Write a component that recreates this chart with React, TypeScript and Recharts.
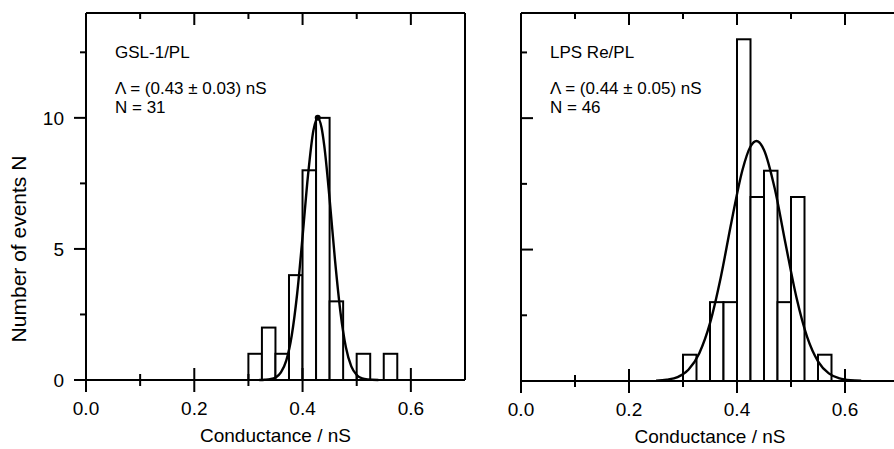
import React from 'react';
import { ComposedChart, Bar, Line, XAxis, YAxis, ReferenceDot } from 'recharts';

// Histogram bins (bin width 0.025 nS, centres)
const binCenters = [0.3125, 0.3375, 0.3625, 0.3875, 0.4125, 0.4375, 0.4625, 0.4875, 0.5125, 0.5375, 0.5625];
const gslCounts = [1, 2, 1, 4, 8, 10, 3, 0, 1, 0, 1];
const lpsCounts = [1, 0, 3, 3, 13, 7, 8, 3, 7, 0, 1];

// Fitted curves
const gslFitX = [0.32, 0.33, 0.34, 0.35, 0.36, 0.37, 0.38, 0.39, 0.40, 0.41, 0.42, 0.428, 0.435, 0.44, 0.45, 0.46, 0.47, 0.48, 0.49, 0.50, 0.51, 0.52, 0.54];
const gslFitY = [0, 0.01, 0.03, 0.09, 0.29, 0.75, 1.70, 3.29, 5.47, 7.80, 9.52, 10, 9.63, 8.95, 6.89, 4.55, 2.58, 1.25, 0.52, 0.19, 0.06, 0.02, 0];
const lpsFitX = [0.25, 0.27, 0.29, 0.31, 0.33, 0.35, 0.37, 0.39, 0.41, 0.425, 0.436, 0.45, 0.47, 0.49, 0.51, 0.53, 0.55, 0.57, 0.59, 0.61, 0.63];
const lpsFitY = [0.01, 0.05, 0.15, 0.43, 1.05, 2.20, 3.95, 6.08, 8.02, 8.92, 9.13, 8.79, 7.31, 5.21, 3.19, 1.67, 0.75, 0.29, 0.10, 0.03, 0.01];

const gslPeakX = 0.428;
const gslPeakY = 10;

// Axis ticks
const xTicks = [0, 0.1, 0.2, 0.3, 0.4, 0.5, 0.6];
const yTicks = [0, 2.5, 5, 7.5, 10, 12.5];
const xDomain: [number, number] = [0, 0.7];
const yDomain: [number, number] = [0, 14];
const binWidth = 0.025;

const xTitle = 'Conductance / nS';
const yTitle = 'Number of events N';
const gslLabels = ['GSL-1/PL', 'Λ = (0.43 ± 0.03) nS', 'N = 31'];
const lpsLabels = ['LPS Re/PL', 'Λ = (0.44 ± 0.05) nS', 'N = 46'];

const FONT = '"Liberation Sans", Arial, Helvetica, sans-serif';
const SW = 2;

const gslBars = binCenters.map((x, i) => ({ x, count: gslCounts[i] }));
const lpsBars = binCenters.map((x, i) => ({ x, count: lpsCounts[i] }));
const gslFit = gslFitX.map((x, i) => ({ x, y: gslFitY[i] }));
const lpsFit = lpsFitX.map((x, i) => ({ x, y: lpsFitY[i] }));

const isMajorX = (v: number) => Math.round(v * 10) % 2 === 0;
const isMajorY = (v: number) => Math.round(v * 2) % 2 === 0;

function BottomTick(props: any) {
  const { x, y, payload } = props;
  const v = payload.value as number;
  const major = isMajorX(v);
  const len = major ? 12 : 6;
  return (
    <g>
      <line x1={x} x2={x} y1={y - len} y2={y + len} stroke="#000" strokeWidth={SW} />
      {major && (
        <text x={x} y={y + 35} textAnchor="middle" fontSize={19} fontFamily={FONT} fill="#000">
          {v.toFixed(1)}
        </text>
      )}
    </g>
  );
}

function TopTick(props: any) {
  const { x, y, payload } = props;
  const len = isMajorX(payload.value) ? 12 : 6;
  return <line x1={x} x2={x} y1={y} y2={y + len} stroke="#000" strokeWidth={SW} />;
}

function LeftOutTick(props: any) {
  const { x, y, payload } = props;
  const v = payload.value as number;
  const major = isMajorY(v);
  const len = major ? 12 : 6;
  return (
    <g>
      <line x1={x - len} x2={x} y1={y} y2={y} stroke="#000" strokeWidth={SW} />
      {major && (
        <text x={x - 22} y={y + 7} textAnchor="end" fontSize={19} fontFamily={FONT} fill="#000">
          {String(v)}
        </text>
      )}
    </g>
  );
}

function LeftInTick(props: any) {
  const { x, y, payload } = props;
  const len = isMajorY(payload.value) ? 12 : 6;
  return <line x1={x} x2={x + len} y1={y} y2={y} stroke="#000" strokeWidth={SW} />;
}

function RightInTick(props: any) {
  const { x, y, payload } = props;
  const len = isMajorY(payload.value) ? 12 : 6;
  return <line x1={x - len} x2={x} y1={y} y2={y} stroke="#000" strokeWidth={SW} />;
}

function HistBar(props: any) {
  const { x, y, width, height, binPx } = props;
  if (!height || height <= 0) return <g />;
  const cx = x + (width || 0) / 2;
  return (
    <rect x={cx - binPx / 2} y={y} width={binPx} height={height} fill="#fff" stroke="#000" strokeWidth={SW} />
  );
}

type PanelProps = {
  left: number;
  width: number;
  margin: { top: number; right: number; bottom: number; left: number };
  bars: { x: number; count: number }[];
  fit: { x: number; y: number }[];
  outerLeftTicks: boolean;
  peak?: { x: number; y: number };
};

function Panel({ left, width, margin, bars, fit, outerLeftTicks, peak }: PanelProps) {
  const height = 449;
  // axis sizes are 1px each, so the plot spans margin + 1 on each side
  const plotW = width - margin.left - margin.right - 2;
  const binPx = (plotW / (xDomain[1] - xDomain[0])) * binWidth;
  const axisLine = { stroke: '#000', strokeWidth: SW };
  return (
    <div style={{ position: 'absolute', left, top: 0 }}>
      <ComposedChart width={width} height={height} data={bars} margin={margin}>
        <XAxis
          xAxisId="b"
          dataKey="x"
          type="number"
          domain={xDomain}
          ticks={xTicks}
          interval={0}
          height={1}
          tickSize={0}
          tickMargin={0}
          axisLine={axisLine}
          tickLine={false}
          tick={(p: any) => <BottomTick {...p} />}
          label={{ value: xTitle, position: 'bottom', offset: 48, fontSize: 19, fontFamily: FONT, fill: '#000' }}
        />
        <XAxis
          xAxisId="t"
          orientation="top"
          dataKey="x"
          type="number"
          domain={xDomain}
          ticks={xTicks}
          interval={0}
          height={1}
          tickSize={0}
          tickMargin={0}
          axisLine={axisLine}
          tickLine={false}
          tick={(p: any) => <TopTick {...p} />}
        />
        <YAxis
          yAxisId="l"
          type="number"
          domain={yDomain}
          ticks={yTicks}
          interval={0}
          width={1}
          tickSize={0}
          tickMargin={0}
          axisLine={axisLine}
          tickLine={false}
          tick={(p: any) => (outerLeftTicks ? <LeftOutTick {...p} /> : <LeftInTick {...p} />)}
        />
        <YAxis
          yAxisId="r"
          orientation="right"
          type="number"
          domain={yDomain}
          ticks={yTicks}
          interval={0}
          width={1}
          tickSize={0}
          tickMargin={0}
          axisLine={axisLine}
          tickLine={false}
          tick={(p: any) => <RightInTick {...p} />}
        />
        <Bar
          xAxisId="b"
          yAxisId="l"
          dataKey="count"
          fill="#fff"
          stroke="#000"
          strokeWidth={SW}
          shape={(p: any) => <HistBar {...p} binPx={binPx} />}
          isAnimationActive={false}
        />
        <Line
          xAxisId="b"
          yAxisId="l"
          data={fit}
          dataKey="y"
          type="monotone"
          stroke="#000"
          strokeWidth={2.4}
          dot={false}
          activeDot={false}
          isAnimationActive={false}
        />
        {peak && (
          <ReferenceDot xAxisId="b" yAxisId="l" x={peak.x} y={peak.y} r={3} fill="#000" stroke="none" />
        )}
      </ComposedChart>
    </div>
  );
}

export default function App() {
  const textStyle = { fontSize: 17, fontFamily: FONT, fill: '#000' } as const;
  return (
    <div
      style={{
        position: 'absolute',
        left: 0,
        top: 0,
        width: 894,
        height: 449,
        overflow: 'hidden',
        background: '#fff',
      }}
    >
      <Panel
        left={0}
        width={470}
        margin={{ top: 12, right: 4, bottom: 68, left: 85 }}
        bars={gslBars}
        fit={gslFit}
        outerLeftTicks={true}
        peak={{ x: gslPeakX, y: gslPeakY }}
      />
      <Panel
        left={470}
        width={440}
        margin={{ top: 12, right: 10, bottom: 67, left: 50 }}
        bars={lpsBars}
        fit={lpsFit}
        outerLeftTicks={false}
      />
      <svg width={894} height={449} style={{ position: 'absolute', left: 0, top: 0, pointerEvents: 'none' }}>
        <text
          transform="translate(26,249) rotate(-90)"
          textAnchor="middle"
          fontSize={21}
          fontFamily={FONT}
          fill="#000"
        >
          {yTitle}
        </text>
        <text x={115} y={58} {...textStyle}>{gslLabels[0]}</text>
        <text x={115} y={94} {...textStyle}>{gslLabels[1]}</text>
        <text x={115} y={113} {...textStyle}>{gslLabels[2]}</text>
        <text x={550} y={58} {...textStyle}>{lpsLabels[0]}</text>
        <text x={550} y={94} {...textStyle}>{lpsLabels[1]}</text>
        <text x={550} y={113} {...textStyle}>{lpsLabels[2]}</text>
      </svg>
    </div>
  );
}
